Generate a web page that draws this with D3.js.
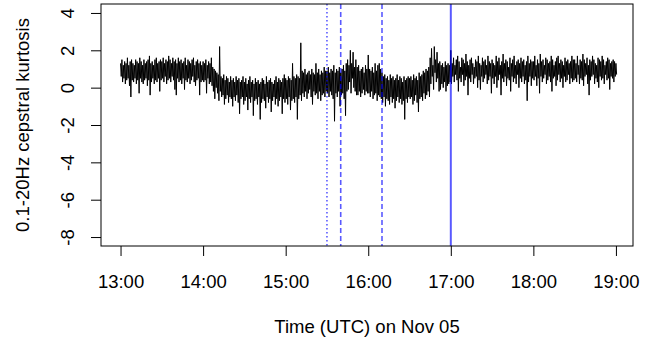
<!DOCTYPE html>
<html>
<head>
<meta charset="utf-8">
<script src="https://cdn.jsdelivr.net/npm/d3@7"></script>
<style>
  body { margin: 0; background: #fff; }
  svg { display: block; }
  text { font-family: "Liberation Sans", Arial, Helvetica, sans-serif; fill: #000; }
</style>
</head>
<body>
<svg id="chart" width="650" height="343"></svg>
<script>
// Cepstral kurtosis (0.1-20 Hz), one-minute windows from 13:00 UTC.
// For each window: the upper and lower excursion of the trace.
const startTime = "13:00";
const kurtHigh = [
  1.3,1.5,1.2,1.4,1.3,1.6,1.2,1.4,1.5,1.3,1.2,1.5,1.4,1.3,1.6,1.4,1.2,1.5,1.3,1.4,1.5,1.7,1.3,1.4,1.2,1.5,1.6,1.3,1.4,1.5,
  1.4,1.6,1.3,1.5,1.4,1.7,1.5,1.3,1.6,1.4,1.5,1.3,1.6,1.4,1.5,1.3,1.4,1.6,1.2,1.5,1.4,1.3,1.5,1.6,1.2,1.4,1.5,1.3,1.4,1.2,
  1.4,1.3,1.5,1.2,1.4,1.3,1.6,1.1,1.0,0.9,0.8,0.7,2.2,0.6,0.5,0.7,0.4,0.6,0.5,0.3,0.6,0.4,0.5,0.3,0.6,0.4,0.5,0.3,0.4,0.6,
  0.3,0.5,0.2,0.4,0.6,0.3,0.4,0.2,0.5,0.3,0.4,0.2,0.3,0.5,0.4,0.2,0.6,0.3,0.4,0.5,0.3,0.2,0.4,0.6,0.3,0.5,0.4,0.3,0.5,0.7,
  0.5,0.4,0.6,0.5,0.4,1.3,0.6,0.5,0.7,0.6,0.5,2.4,0.9,0.8,1.0,0.7,0.8,0.9,0.7,1.0,0.8,0.7,1.3,0.8,1.0,0.7,0.9,0.8,1.1,0.9,
  0.9,1.1,0.8,1.0,0.9,1.2,0.8,1.0,0.9,1.1,0.8,1.0,1.2,0.9,1.3,1.5,1.2,2.0,1.3,1.9,1.1,1.5,1.1,1.2,0.9,1.0,1.1,0.8,1.2,1.0,
  1.75,1.0,0.9,1.1,0.8,1.3,0.9,1.2,1.3,1.0,0.8,0.6,0.7,0.5,0.6,0.4,0.7,0.5,0.6,0.4,0.5,0.7,0.4,0.6,0.5,0.3,0.6,0.4,0.5,0.6,
  0.5,0.6,0.4,0.7,0.5,0.6,0.4,0.8,0.6,0.7,0.9,0.8,1.0,0.9,1.1,1.6,2.1,1.2,2.2,1.5,1.9,1.3,1.4,1.2,1.3,1.1,1.4,1.2,1.3,1.2,
  2.0,1.3,1.6,1.2,1.5,1.7,1.4,1.1,1.6,1.5,1.3,1.8,1.4,1.2,1.5,1.6,1.3,1.1,1.5,1.4,1.7,1.3,1.2,1.6,1.4,1.5,1.2,1.7,1.4,1.3,
  1.5,1.3,1.2,1.7,1.4,1.6,1.2,1.4,1.8,1.3,1.5,1.4,1.1,1.6,1.3,1.5,1.7,1.2,1.4,1.5,1.3,1.6,1.4,1.5,1.2,1.4,1.7,1.3,1.5,1.4,
  1.4,1.7,1.2,1.5,1.3,1.8,1.4,1.5,1.2,1.6,1.5,1.3,1.4,1.7,1.5,1.2,1.4,1.6,1.7,1.3,1.5,1.4,1.2,1.6,1.4,1.5,1.3,1.4,1.7,1.5,
  1.5,1.3,1.7,1.2,1.5,1.4,1.8,1.5,1.3,1.6,1.2,1.5,1.4,1.7,1.5,1.3,1.2,1.6,1.5,1.4,1.7,1.5,1.2,1.4,1.6,1.5,1.3,1.4,1.5,1.4,1.3
];
const kurtLow = [
  0.6,0.3,0.5,0.2,0.4,0.5,0.1,-0.5,0.4,0.3,0.5,0.2,0.4,-0.3,0.5,0.3,0.2,0.4,0.5,0.1,0.4,-0.4,0.3,0.5,0.2,0.4,0.3,0.5,-0.2,0.4,
  0.5,0.3,0.6,0.2,0.4,0.5,0.3,0.6,0.4,-0.1,-0.4,0.5,0.3,0.4,0.2,0.5,-0.1,0.4,0.3,0.5,0.2,0.4,0.6,0.3,0.1,0.4,0.5,-0.4,0.3,0.4,
  0.3,0.4,-0.3,0.5,0.2,0.3,0.1,-0.2,-0.6,0.0,-0.3,-0.7,-0.2,-0.5,-0.4,-0.9,-0.6,-0.4,-0.8,-0.5,-0.6,-1.0,-0.5,-0.7,-0.4,-0.8,-1.4,-0.6,-0.5,-0.9,
  -0.7,-0.5,-1.2,-0.6,-0.8,-0.5,-1.5,-0.7,-0.6,-0.9,-0.5,-1.7,-0.8,-0.6,-0.7,-1.1,-0.5,-0.8,-0.6,-1.3,-0.7,-0.5,-0.9,-0.6,-1.0,-0.7,-0.5,-1.4,-0.6,-0.8,
  -0.6,-0.9,-0.5,-1.2,-0.7,-0.6,-0.8,-0.5,-1.7,-0.6,-0.4,-0.7,-0.3,-0.5,-0.2,-0.6,-0.3,-0.1,-0.5,-0.9,-0.2,-0.4,-0.3,-0.6,-0.2,-0.7,-0.4,-0.3,-0.5,-0.2,
  -0.3,-0.5,-0.2,-0.4,-0.6,-1.8,-0.3,-0.5,-0.2,-1.0,-0.4,-0.3,-0.6,-1.5,-0.2,-0.1,0.3,-0.3,0.5,0.0,-0.2,-0.4,-0.4,-0.2,-0.5,-0.3,-0.1,-0.4,-0.2,-0.3,
  -0.3,-0.5,-0.2,-0.6,-0.4,-0.3,-0.7,-0.4,-0.5,-0.6,-0.8,-0.5,-1.0,-0.6,-0.7,-0.9,-0.5,-0.8,-0.6,-1.1,-0.7,-0.5,-0.8,-0.6,-0.9,-0.7,-1.7,-0.6,-0.8,-0.5,
  -0.6,-0.5,-0.9,-0.7,-0.4,-0.8,-1.3,-0.6,-0.5,-0.7,-0.3,-0.6,-0.4,-0.2,-0.5,0.2,0.6,-0.1,0.8,0.3,0.5,-0.2,-0.1,0.2,0.0,0.3,-0.2,0.1,0.2,0.3,
  0.2,0.6,0.3,0.7,0.4,-0.2,0.5,0.3,0.7,0.1,0.4,0.6,-0.4,0.5,0.3,0.7,0.2,0.5,0.6,0.0,0.4,-0.1,0.6,0.3,0.5,0.7,0.2,0.4,0.6,-0.3,
  0.5,0.2,0.6,0.0,0.4,0.7,-0.4,0.5,0.3,0.6,0.1,0.5,0.4,-0.2,0.6,0.3,0.5,0.2,0.7,0.0,0.5,0.3,0.6,0.2,0.4,-0.7,0.3,0.6,0.1,0.5,
  0.4,0.6,0.1,0.5,-0.3,0.6,0.3,0.5,0.7,0.2,0.4,0.6,0.3,-0.2,0.5,0.6,0.1,0.4,0.7,0.3,0.5,0.0,0.6,0.3,0.4,0.7,0.2,0.5,0.3,0.4,
  0.5,0.3,0.7,0.2,0.5,0.4,0.1,0.6,0.7,0.2,-0.4,0.4,0.6,0.7,0.2,0.5,0.3,0.0,0.6,0.4,0.5,0.2,0.7,0.4,0.5,-0.1,0.6,0.5,0.3,0.6,0.7
];

const yTicks = [4, 2, 0, -2, -4, -6, -8];
const xTickLabels = ["13:00", "14:00", "15:00", "16:00", "17:00", "18:00", "19:00"];

// Event markers
const markerTimes = ["15:30", "15:40", "16:10", "17:00"];
const markerKinds = ["dotted", "dashed", "dashed", "solid"];

const xTitle = "Time (UTC) on Nov 05";
const yTitle = "0.1-20Hz cepstral kurtosis";

// ---- layout
const plot = { left: 101, right: 633, top: 4, bottom: 246 };
const fontSize = "18.5px";
const parseHM = d3.utcParse("%H:%M");
const t0 = parseHM(startTime);
const MIN = 60 * 1000;

const x = d3.scaleUtc()
  .domain([new Date(+t0 - 14.2 * MIN), new Date(+t0 + 372.4 * MIN)])
  .range([plot.left, plot.right]);
const y = d3.scaleLinear()
  .domain([-8.48, 4.48])
  .range([plot.bottom, plot.top]);

const svg = d3.select("#chart");

// ---- trace: each window contributes its upper then lower excursion
const trace = [];
kurtHigh.forEach((hi, i) => {
  trace.push({ t: new Date(+t0 + i * MIN), v: hi });
  trace.push({ t: new Date(+t0 + (i + 0.5) * MIN), v: kurtLow[i] });
});

svg.append("path")
  .datum(trace)
  .attr("fill", "none")
  .attr("stroke", "#000")
  .attr("stroke-width", 1)
  .attr("d", d3.line().x(d => x(d.t)).y(d => y(d.v)));

// ---- event markers
const dashFor = { dotted: "1.5,2.5", dashed: "5,3", solid: null };
svg.append("g")
  .selectAll("line")
  .data(markerTimes.map((m, i) => ({ t: parseHM(m), kind: markerKinds[i] })))
  .join("line")
  .attr("x1", d => x(d.t)).attr("x2", d => x(d.t))
  .attr("y1", plot.top).attr("y2", plot.bottom)
  .attr("stroke", "rgba(0,0,255,0.65)")
  .attr("stroke-width", d => d.kind === "solid" ? 2 : 1.6)
  .attr("stroke-dasharray", d => dashFor[d.kind]);

// ---- frame
svg.append("rect")
  .attr("x", plot.left).attr("y", plot.top)
  .attr("width", plot.right - plot.left).attr("height", plot.bottom - plot.top)
  .attr("fill", "none").attr("stroke", "#000").attr("stroke-width", 1);

// ---- axes
const gx = svg.append("g")
  .attr("transform", `translate(0,${plot.bottom})`)
  .call(d3.axisBottom(x)
    .tickValues(xTickLabels.map(parseHM))
    .tickFormat(d3.utcFormat("%H:%M"))
    .tickSize(10)
    .tickPadding(19));
gx.select(".domain").remove();

const gy = svg.append("g")
  .attr("transform", `translate(${plot.left},0)`)
  .call(d3.axisLeft(y)
    .tickValues(yTicks)
    .tickFormat(d => String(d))
    .tickSize(10));
gy.select(".domain").remove();
gy.selectAll(".tick text")
  .attr("x", null).attr("dy", null)
  .attr("text-anchor", "middle")
  .attr("transform", "translate(-27,0) rotate(-90)");

svg.selectAll(".tick line").attr("stroke", "#000");
svg.selectAll(".tick text")
  .attr("fill", "#000")
  .style("font-size", fontSize)
  .style("font-family", '"Liberation Sans", Arial, sans-serif');

// ---- titles
svg.append("text")
  .attr("x", (plot.left + plot.right) / 2)
  .attr("y", 333)
  .attr("text-anchor", "middle")
  .style("font-size", fontSize)
  .text(xTitle);

svg.append("text")
  .attr("transform", `translate(29,${(plot.top + plot.bottom) / 2}) rotate(-90)`)
  .attr("text-anchor", "middle")
  .style("font-size", fontSize)
  .text(yTitle);
</script>
</body>
</html>
